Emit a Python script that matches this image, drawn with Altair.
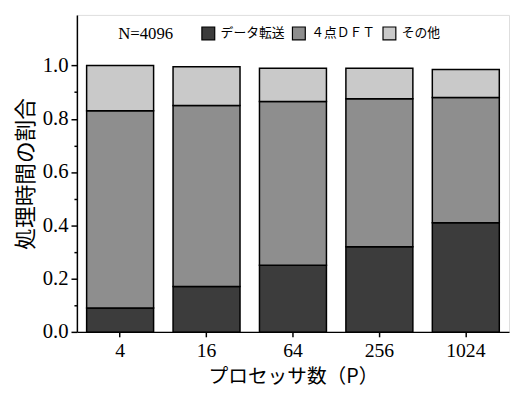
import altair as alt
import pandas as pd

procs = ["4", "16", "64", "256", "1024"]
series = ["データ転送", "４点ＤＦＴ", "その他"]
transfer = [0.09, 0.17, 0.25, 0.32, 0.41]
dft = [0.74, 0.68, 0.615, 0.555, 0.47]
other = [0.17, 0.145, 0.125, 0.115, 0.105]
y_ticks = [0.0, 0.1, 0.2, 0.3, 0.4, 0.5, 0.6, 0.7, 0.8, 0.9, 1.0]

rows = []
for i, p in enumerate(procs):
    for k, (name, vals) in enumerate(zip(series, [transfer, dft, other])):
        rows.append({"P": p, "series": name, "value": vals[i], "order": k})
df = pd.DataFrame(rows)

bars = alt.Chart(df).mark_bar(stroke="black", strokeWidth=1.5).encode(
    x=alt.X("P:N", sort=procs,
            scale=alt.Scale(paddingInner=0.225, paddingOuter=0.1125),
            axis=alt.Axis(title="プロセッサ数（P）", labelAngle=0,
                          labelFont="Liberation Serif", labelFontSize=20,
                          labelColor="black", labelPadding=4,
                          titleFont="Noto Sans CJK JP", titleFontSize=20,
                          titleFontWeight="normal", titleColor="black",
                          titlePadding=6,
                          tickSize=5, tickColor="black", tickWidth=1.5,
                          domainColor="black", domainWidth=1.5)),
    y=alt.Y("value:Q", stack="zero",
            scale=alt.Scale(domain=[0, 1.19], nice=False),
            axis=alt.Axis(title="処理時間の割合", values=y_ticks,
                          labelExpr="(round(datum.value*10) % 2 == 0) ? format(datum.value, '.1f') : ''",
                          labelFont="Liberation Serif", labelFontSize=21,
                          labelColor="black", labelPadding=3,
                          titleFont="Noto Sans CJK JP", titleFontSize=22,
                          titleFontWeight="normal", titleColor="black",
                          titlePadding=5, grid=False,
                          tickSize={"condition": {"test": "round(datum.value*10) % 2 == 0", "value": 6}, "value": 3},
                          tickColor="black", tickWidth=1.5,
                          domainColor="black", domainWidth=1.5)),
    color=alt.Color("series:N", sort=series,
                    scale=alt.Scale(domain=series, range=["#3c3c3c", "#8e8e8e", "#c9c9c9"]),
                    legend=alt.Legend(title="N=4096", orient="none",
                                      direction="horizontal",
                                      legendX=42, legendY=11,
                                      titleOrient="left", titleFont="Liberation Serif",
                                      titleFontSize=17, titleFontWeight="normal",
                                      titleColor="black", titlePadding=28,
                                      labelFont="Noto Sans CJK JP", labelFontSize=13,
                                      labelColor="black", labelOffset=5,
                                      symbolType="square", symbolSize=170,
                                      symbolStrokeColor="black", symbolStrokeWidth=1.2,
                                      symbolOpacity=1, columnPadding=4)),
    order=alt.Order("order:Q", sort="ascending"),
)

chart = bars.properties(
    width=439, height=322,
    autosize=alt.AutoSizeParams(type="none"),
    padding={"left": 70, "top": 4, "right": 1, "bottom": 55},
).configure_view(stroke="black", strokeWidth=1.5).configure(background="white")

chart.save("out.html", embed_options={"renderer": "svg", "actions": False})
